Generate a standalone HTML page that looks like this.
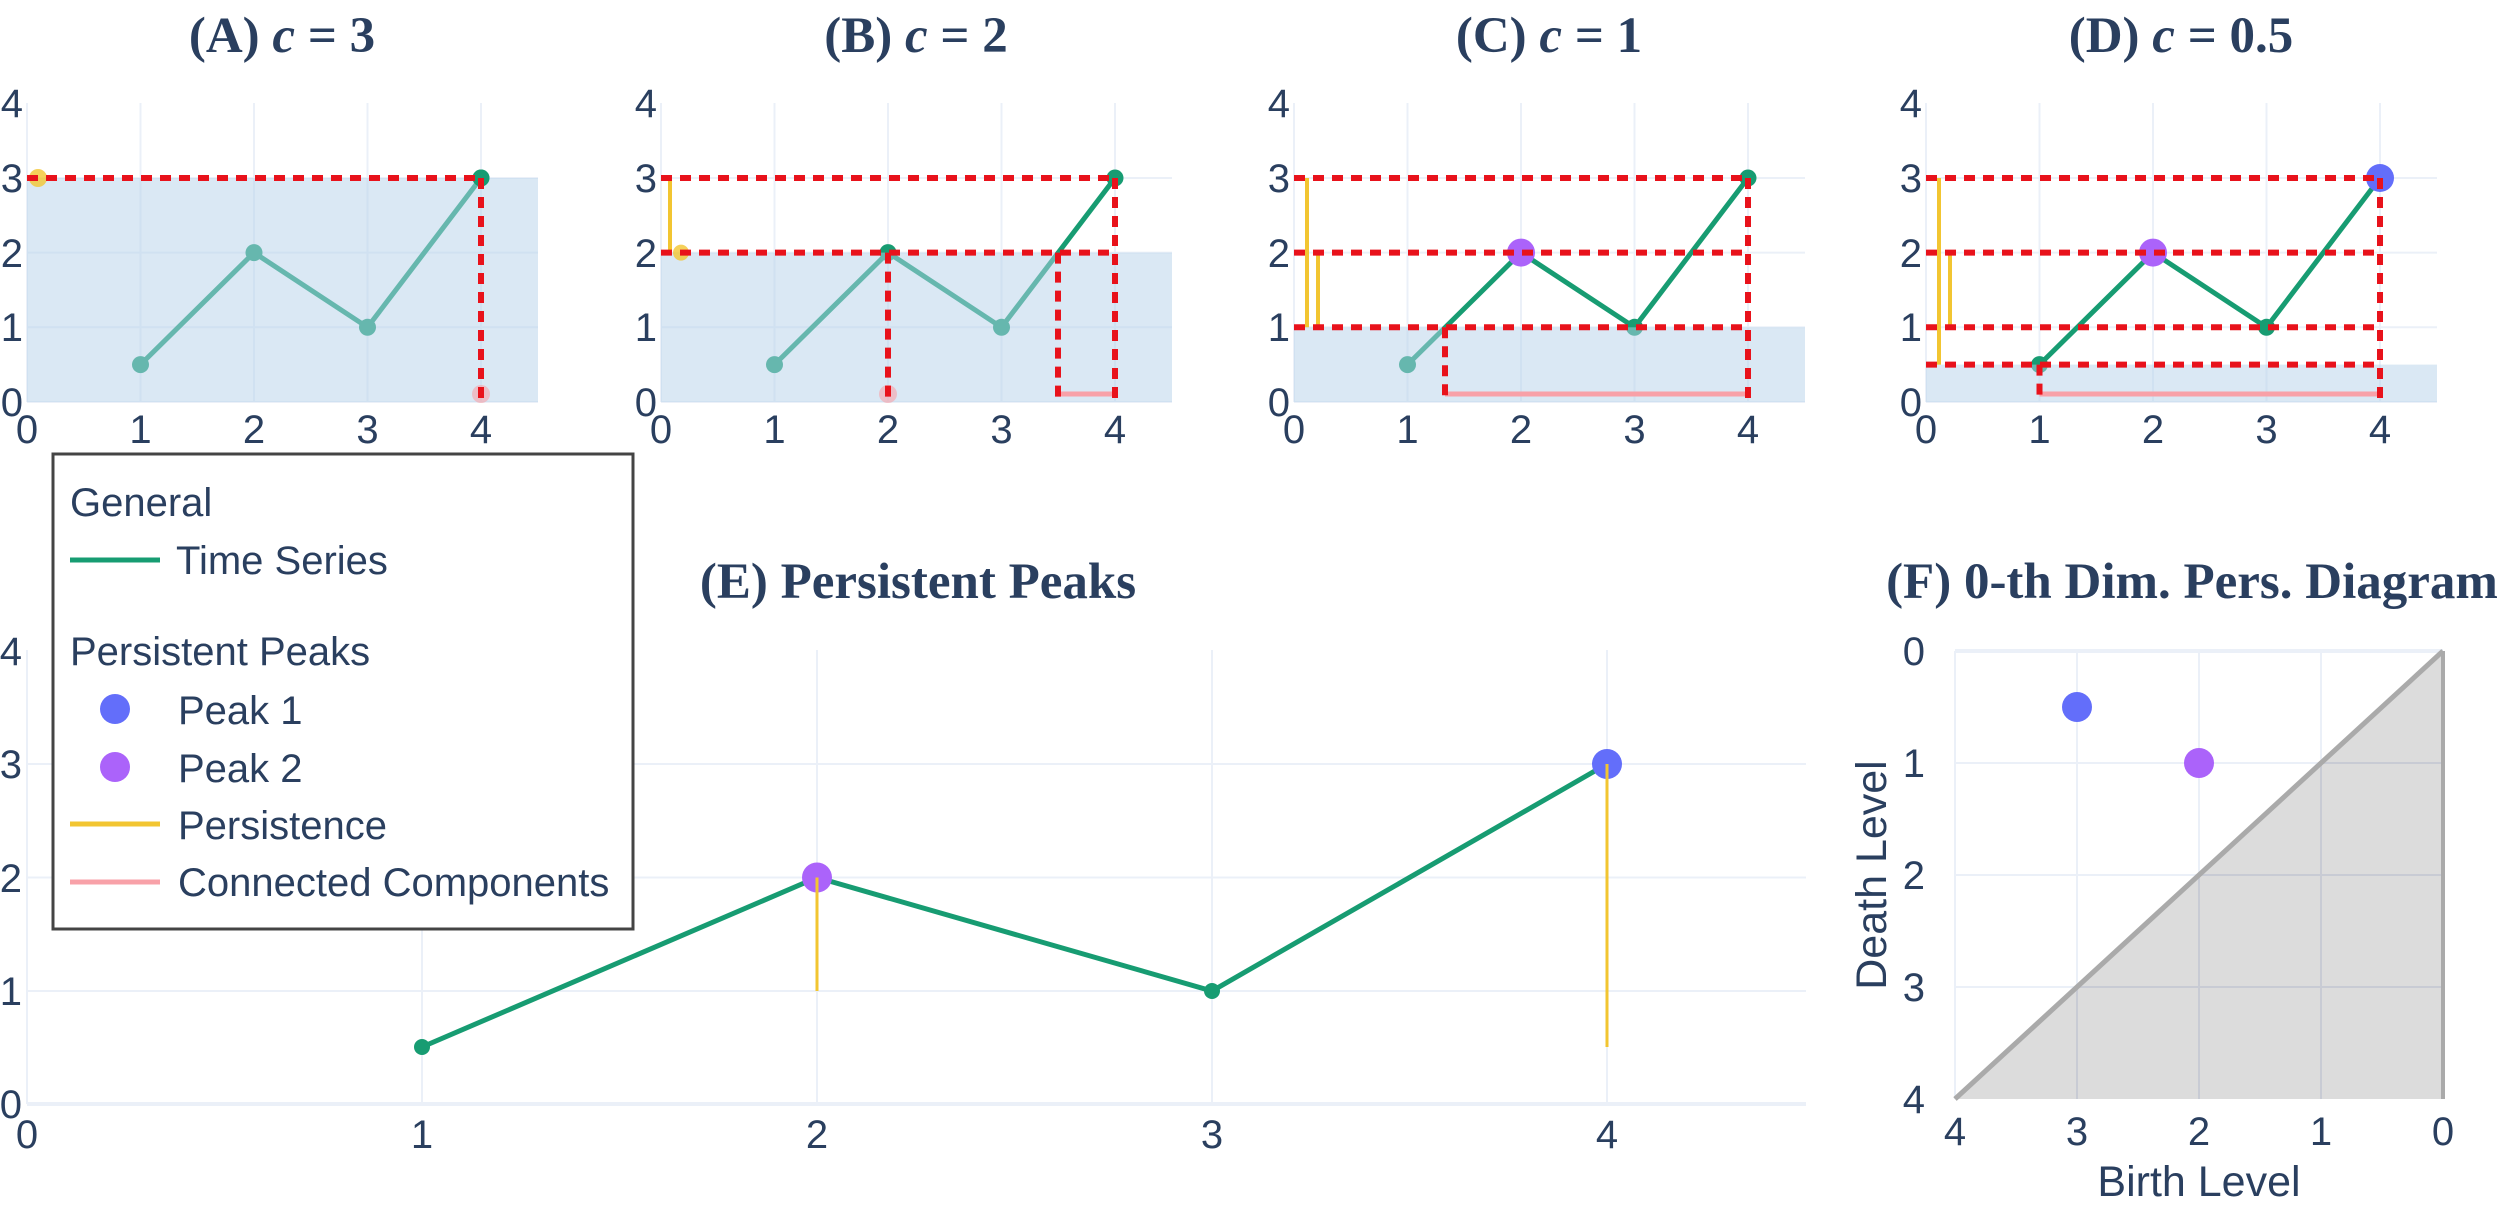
<!DOCTYPE html>
<html><head><meta charset="utf-8"><style>
body{margin:0;background:#fff}
svg text{font-family:"Liberation Sans",sans-serif;fill:#2a3f5f}
.t{font-family:"Liberation Serif",serif;font-weight:bold;font-size:51px}
.tk{font-size:40px}
</style></head><body>
<svg width="2500" height="1203" viewBox="0 0 2500 1203" xmlns="http://www.w3.org/2000/svg">
<defs>
<g id="grid">
<g stroke="#ebf0f8" stroke-width="2">
<line x1="0" y1="103" x2="0" y2="402"/><line x1="113.5" y1="103" x2="113.5" y2="402"/><line x1="227" y1="103" x2="227" y2="402"/><line x1="340.5" y1="103" x2="340.5" y2="402"/><line x1="454" y1="103" x2="454" y2="402"/>
<line x1="0" y1="178" x2="511" y2="178"/><line x1="0" y1="252.6" x2="511" y2="252.6"/><line x1="0" y1="327.3" x2="511" y2="327.3"/><line x1="0" y1="402" x2="511" y2="402"/>
</g>
<g text-anchor="end"><text x="-4" y="117" class="tk">4</text><text x="-4" y="192" class="tk">3</text><text x="-4" y="267" class="tk">2</text><text x="-4" y="341" class="tk">1</text><text x="-4" y="416" class="tk">0</text></g>
<g text-anchor="middle"><text x="0" y="443" class="tk">0</text><text x="113.5" y="443" class="tk">1</text><text x="227" y="443" class="tk">2</text><text x="340.5" y="443" class="tk">3</text><text x="454" y="443" class="tk">4</text></g>
</g>
<g id="ts">
<polyline points="113.5,364.6 227,252.6 340.5,327.3 454,178" fill="none" stroke="#179c72" stroke-width="5"/>
<g fill="#179c72"><circle cx="113.5" cy="364.6" r="8.5"/><circle cx="227" cy="252.6" r="8.5"/><circle cx="340.5" cy="327.3" r="8.5"/><circle cx="454" cy="178" r="8.5"/></g>
</g>
</defs>

<g transform="translate(27,0)">
<use href="#grid"/>
<use href="#ts"/>
<rect x="0" y="178" width="511" height="224" fill="rgb(181,210,233)" fill-opacity="0.5"/>
<circle cx="454" cy="178" r="8.5" fill="#179c72"/>
<circle cx="11" cy="178" r="9" fill="#f2c531" opacity="0.8"/>
<circle cx="454" cy="394" r="9" fill="#f8a1a8" opacity="0.6"/>
<g stroke="#e8121b" stroke-width="6" stroke-dasharray="11,8" fill="none">
<line x1="0" y1="178" x2="454" y2="178"/><line x1="454" y1="178" x2="454" y2="402"/></g>
<text x="255" y="52" text-anchor="middle" class="t">(A) <tspan font-style="italic">c</tspan> = 3</text>
</g>

<g transform="translate(661,0)">
<use href="#grid"/>
<use href="#ts"/>
<rect x="0" y="252.6" width="511" height="149.4" fill="rgb(181,210,233)" fill-opacity="0.5"/>
<line x1="9" y1="178" x2="9" y2="252.6" stroke="#f2c531" stroke-width="4"/>
<circle cx="20" cy="252.6" r="8" fill="#f2c531" opacity="0.8"/>
<circle cx="227" cy="394" r="9" fill="#f8a1a8" opacity="0.6"/>
<line x1="397" y1="394" x2="454" y2="394" stroke="#f8a1a8" stroke-width="5"/>
<g stroke="#e8121b" stroke-width="6" stroke-dasharray="11,8" fill="none">
<line x1="0" y1="178" x2="454" y2="178"/><line x1="0" y1="252.6" x2="454" y2="252.6"/>
<line x1="227" y1="252.6" x2="227" y2="402"/><line x1="397" y1="252.6" x2="397" y2="402"/><line x1="454" y1="178" x2="454" y2="402"/></g>
<text x="255" y="52" text-anchor="middle" class="t">(B) <tspan font-style="italic">c</tspan> = 2</text>
</g>

<g transform="translate(1294,0)">
<use href="#grid"/>
<use href="#ts"/>
<rect x="0" y="327.3" width="511" height="74.7" fill="rgb(181,210,233)" fill-opacity="0.5"/>
<circle cx="227" cy="252.6" r="14" fill="#ab63fa"/>
<line x1="13" y1="178" x2="13" y2="327.3" stroke="#f2c531" stroke-width="4"/>
<line x1="24" y1="252.6" x2="24" y2="327.3" stroke="#f2c531" stroke-width="4"/>
<line x1="151" y1="394" x2="454" y2="394" stroke="#f8a1a8" stroke-width="5"/>
<g stroke="#e8121b" stroke-width="6" stroke-dasharray="11,8" fill="none">
<line x1="0" y1="178" x2="454" y2="178"/><line x1="0" y1="252.6" x2="454" y2="252.6"/><line x1="0" y1="327.3" x2="454" y2="327.3"/>
<line x1="151" y1="327.3" x2="151" y2="402"/><line x1="454" y1="178" x2="454" y2="402"/></g>
<text x="255" y="52" text-anchor="middle" class="t">(C) <tspan font-style="italic">c</tspan> = 1</text>
</g>

<g transform="translate(1926,0)">
<use href="#grid"/>
<use href="#ts"/>
<rect x="0" y="364.6" width="511" height="37.4" fill="rgb(181,210,233)" fill-opacity="0.5"/>
<circle cx="227" cy="252.6" r="14" fill="#ab63fa"/>
<circle cx="454" cy="178" r="14" fill="#636efa"/>
<line x1="13" y1="178" x2="13" y2="364.6" stroke="#f2c531" stroke-width="4"/>
<line x1="24" y1="252.6" x2="24" y2="327.3" stroke="#f2c531" stroke-width="4"/>
<line x1="113.5" y1="394" x2="454" y2="394" stroke="#f8a1a8" stroke-width="5"/>
<g stroke="#e8121b" stroke-width="6" stroke-dasharray="11,8" fill="none">
<line x1="0" y1="178" x2="454" y2="178"/><line x1="0" y1="252.6" x2="454" y2="252.6"/><line x1="0" y1="327.3" x2="454" y2="327.3"/><line x1="0" y1="364.6" x2="454" y2="364.6"/>
<line x1="113.5" y1="364.6" x2="113.5" y2="402"/><line x1="454" y1="178" x2="454" y2="402"/></g>
<text x="255" y="52" text-anchor="middle" class="t">(D) <tspan font-style="italic">c</tspan> = 0.5</text>
</g>

<g stroke="#ebf0f8" stroke-width="2">
<line x1="27" y1="650" x2="27" y2="1104"/><line x1="422" y1="650" x2="422" y2="1104"/><line x1="817" y1="650" x2="817" y2="1104"/><line x1="1212" y1="650" x2="1212" y2="1104"/><line x1="1607" y1="650" x2="1607" y2="1104"/>
<line x1="27" y1="764" x2="1806" y2="764"/><line x1="27" y1="877.5" x2="1806" y2="877.5"/><line x1="27" y1="991" x2="1806" y2="991"/><line x1="27" y1="1104" x2="1806" y2="1104" stroke-width="4"/>
</g>
<g text-anchor="end"><text x="22" y="665" class="tk">4</text><text x="22" y="778" class="tk">3</text><text x="22" y="892" class="tk">2</text><text x="22" y="1005" class="tk">1</text><text x="22" y="1118" class="tk">0</text></g>
<g text-anchor="middle"><text x="27" y="1148" class="tk">0</text><text x="422" y="1148" class="tk">1</text><text x="817" y="1148" class="tk">2</text><text x="1212" y="1148" class="tk">3</text><text x="1607" y="1148" class="tk">4</text></g>
<polyline points="422,1047 817,877.5 1212,991 1607,764" fill="none" stroke="#179c72" stroke-width="5"/>
<circle cx="422" cy="1047" r="8" fill="#179c72"/><circle cx="1212" cy="991" r="8" fill="#179c72"/>
<circle cx="817" cy="877.5" r="15" fill="#ab63fa"/><circle cx="1607" cy="764" r="15" fill="#636efa"/>
<line x1="817" y1="877.5" x2="817" y2="991" stroke="#f2c531" stroke-width="3"/>
<line x1="1607" y1="764" x2="1607" y2="1047" stroke="#f2c531" stroke-width="3"/>
<text x="918" y="598" text-anchor="middle" class="t">(E) Persistent Peaks</text>

<polygon points="1955,1099 2443,651 2443,1099" fill="#dcdcdc"/>
<g stroke="#ebf0f8" stroke-width="2">
<line x1="1955" y1="651" x2="1955" y2="1099"/><line x1="2077" y1="651" x2="2077" y2="1099"/><line x1="2199" y1="651" x2="2199" y2="1099"/><line x1="2321" y1="651" x2="2321" y2="1099"/>
<line x1="1955" y1="651" x2="2443" y2="651" stroke-width="4"/><line x1="1955" y1="763" x2="2443" y2="763"/><line x1="1955" y1="875" x2="2443" y2="875"/><line x1="1955" y1="987" x2="2443" y2="987"/>
</g>
<g stroke="#c8cbd4" stroke-width="2">
<line x1="2077" y1="987" x2="2077" y2="1099"/><line x1="2199" y1="875" x2="2199" y2="1099"/><line x1="2321" y1="763" x2="2321" y2="1099"/>
<line x1="2077" y1="987" x2="2443" y2="987"/><line x1="2199" y1="875" x2="2443" y2="875"/><line x1="2321" y1="763" x2="2443" y2="763"/>
</g>
<line x1="1955" y1="1099" x2="2443" y2="651" stroke="#aaaaaa" stroke-width="5"/>
<line x1="2443" y1="651" x2="2443" y2="1099" stroke="#aaaaaa" stroke-width="4"/>
<circle cx="2077" cy="707" r="15" fill="#636efa"/><circle cx="2199" cy="763" r="15" fill="#ab63fa"/>
<g text-anchor="end"><text x="1925" y="665" class="tk">0</text><text x="1925" y="777" class="tk">1</text><text x="1925" y="889" class="tk">2</text><text x="1925" y="1001" class="tk">3</text><text x="1925" y="1113" class="tk">4</text></g>
<g text-anchor="middle"><text x="1955" y="1145" class="tk">4</text><text x="2077" y="1145" class="tk">3</text><text x="2199" y="1145" class="tk">2</text><text x="2321" y="1145" class="tk">1</text><text x="2443" y="1145" class="tk">0</text></g>
<text x="2199" y="1196" text-anchor="middle" font-size="43">Birth Level</text>
<text transform="translate(1886,875) rotate(-90)" text-anchor="middle" font-size="43">Death Level</text>
<text x="2192" y="598" text-anchor="middle" class="t">(F) 0-th Dim. Pers. Diagram</text>

<rect x="53" y="454" width="580" height="475" fill="#fff" stroke="#444" stroke-width="3"/>
<text x="70" y="516" class="tk">General</text>
<line x1="70" y1="560" x2="160" y2="560" stroke="#179c72" stroke-width="5"/>
<text x="176" y="574" class="tk">Time Series</text>
<text x="70" y="665" class="tk">Persistent Peaks</text>
<circle cx="115" cy="709" r="15" fill="#636efa"/><text x="178" y="724" class="tk">Peak 1</text>
<circle cx="115" cy="767" r="15" fill="#ab63fa"/><text x="178" y="782" class="tk">Peak 2</text>
<line x1="70" y1="824" x2="160" y2="824" stroke="#f2c531" stroke-width="5"/><text x="178" y="839" class="tk">Persistence</text>
<line x1="70" y1="882" x2="160" y2="882" stroke="#f8a1a8" stroke-width="5"/><text x="178" y="896" class="tk">Connected Components</text>
</svg>
</body></html>
